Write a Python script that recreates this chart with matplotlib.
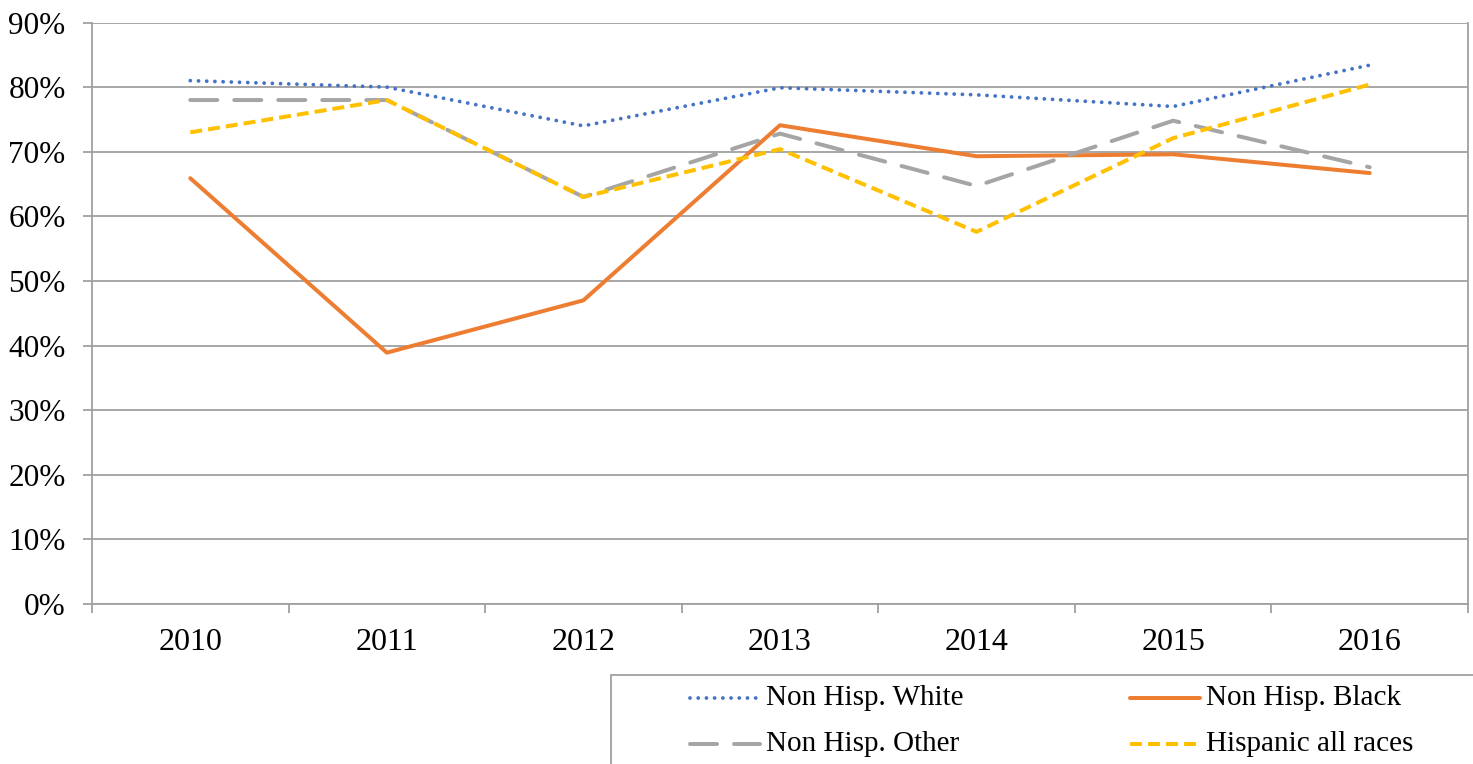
import matplotlib
matplotlib.use("Agg")
import matplotlib.pyplot as plt
from matplotlib.lines import Line2D
from matplotlib.patches import Rectangle
from matplotlib.ticker import FuncFormatter, FixedLocator

years = ["2010", "2011", "2012", "2013", "2014", "2015", "2016"]
white = [81.0, 80.0, 74.0, 79.9, 78.8, 77.0, 83.4]
black = [65.9, 38.9, 47.0, 74.1, 69.3, 69.6, 66.7]
other = [78.0, 78.0, 63.0, 72.8, 64.7, 74.8, 67.6]
hispanic = [73.0, 78.0, 63.0, 70.4, 57.6, 72.1, 80.4]
labels = ["Non Hisp. White", "Non Hisp. Black", "Non Hisp. Other", "Hispanic all races"]

plt.rcParams['font.family'] = ['Liberation Serif', 'DejaVu Serif']

W, H = 1473, 764
fig = plt.figure(figsize=(W / 100, H / 100), dpi=100)
ax = fig.add_axes([92 / W, 1 - 604 / H, (1468 - 92) / W, (604 - 22.5) / H])

px = 0.72  # points per pixel
grid_c = "#A0A0A0"

x = list(range(len(years)))
styles = [
    dict(color="#4472C4", lw=3.8 * px, dashes=(0.01, 2.15), dash_capstyle="round"),
    dict(color="#ED7D31", lw=4.0 * px, solid_capstyle="round"),
    dict(color="#A5A5A5", lw=4.0 * px, dashes=(6.75, 4.25), dash_capstyle="round"),
    dict(color="#FFC000", lw=4.0 * px, dashes=(3.0, 1.5), dash_capstyle="butt"),
]
series = [white, black, other, hispanic]
for vals, st, lab in zip(series, styles, labels):
    ax.plot(x, vals, label=lab, zorder=3, **st)

ax.set_xlim(-0.5, len(years) - 0.5)
ax.set_ylim(0, 90)
ax.set_yticks(range(0, 91, 10))
ax.yaxis.set_major_formatter(FuncFormatter(lambda v, p: f"{int(v)}%"))
ax.yaxis.grid(True, color=grid_c, lw=1.8 * px)
ax.set_axisbelow(True)

ax.set_xticks(x)
ax.set_xticklabels(years)
ax.xaxis.set_minor_locator(FixedLocator([i - 0.5 for i in range(len(years) + 1)]))
ax.tick_params(axis="x", which="major", length=0, pad=17, labelsize=23)
ax.tick_params(axis="x", which="minor", length=9 * px, width=1.8 * px, color=grid_c, direction="out")
ax.tick_params(axis="y", length=9 * px, width=1.8 * px, color=grid_c, pad=12.5, labelsize=22.5)

for s in ["left", "bottom", "right"]:
    ax.spines[s].set_color(grid_c)
    ax.spines[s].set_linewidth(1.8 * px)
ax.spines["top"].set_visible(False)

# Legend box (cropped by figure edge)
fig.add_artist(Rectangle((611 / W, -0.1), 1.0, 1 - 675 / H + 0.1, transform=fig.transFigure,
                         fill=False, edgecolor=grid_c, lw=1.8 * px))
pos = [(690, 698), (1130, 698), (690, 744), (1130, 744)]
for (lx, ly), st, lab in zip(pos, styles, labels):
    yy = 1 - ly / H
    fig.add_artist(Line2D([lx / W, (lx + 70) / W], [yy, yy], transform=fig.transFigure, **st))
    fig.text((lx + 76) / W, yy, lab, fontsize=21, va="center", ha="left")

fig.savefig("out.png", dpi=100)
